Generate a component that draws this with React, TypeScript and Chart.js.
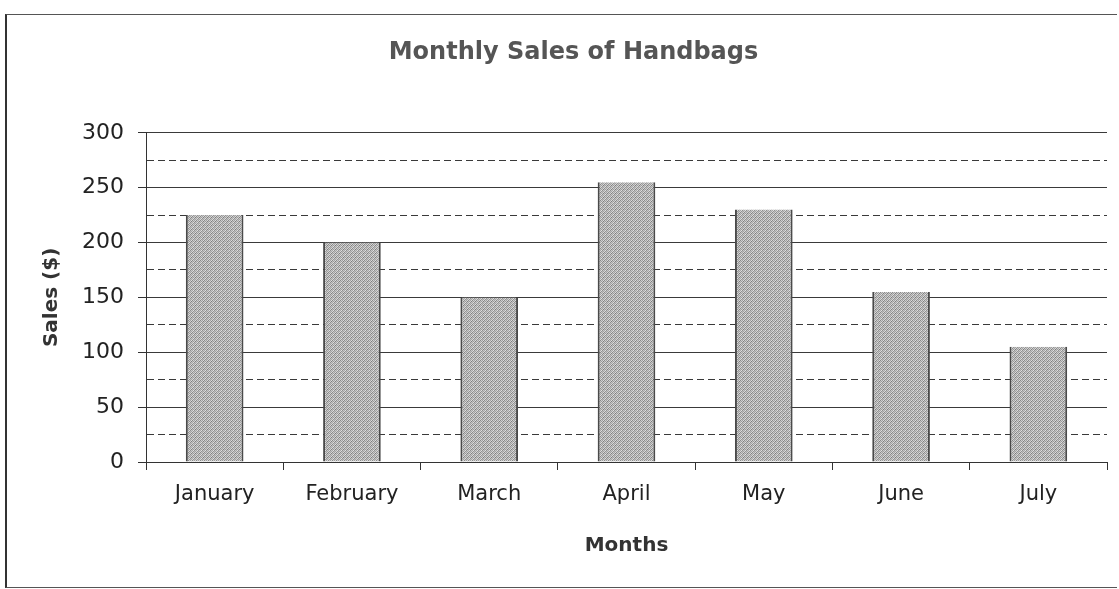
import React, { useEffect, useRef } from "react";
import { Chart, registerables } from "chart.js";

Chart.register(...registerables);

const chartTitle = "Monthly Sales of Handbags";
const xTitle = "Months";
const yTitle = "Sales ($)";
const months = ["January", "February", "March", "April", "May", "June", "July"];
const sales = [225, 200, 150, 255, 230, 155, 105];
const yMin = 0;
const yMax = 300;
const yStep = 25;
const yLabelEvery = 50;

function makePattern(ctx: CanvasRenderingContext2D): CanvasPattern | string {
  const c = document.createElement("canvas");
  c.width = 4;
  c.height = 4;
  const p = c.getContext("2d");
  if (!p) return "#aaaaaa";
  const shades = [
    "#8a8a8a", "#cfcfcf", "#a0a0a0", "#dadada",
    "#c4c4c4", "#9a9a9a", "#d2d2d2", "#7e7e7e",
    "#a6a6a6", "#e0e0e0", "#8e8e8e", "#c8c8c8",
    "#d6d6d6", "#949494", "#bcbcbc", "#a2a2a2",
  ];
  for (let i = 0; i < 16; i++) {
    p.fillStyle = shades[i];
    p.fillRect(i % 4, Math.floor(i / 4), 1, 1);
  }
  return ctx.createPattern(c, "repeat") || "#aaaaaa";
}

export default function App() {
  const ref = useRef<HTMLCanvasElement | null>(null);
  useEffect(() => {
    const canvas = ref.current;
    if (!canvas) return;
    const ctx = canvas.getContext("2d");
    if (!ctx) return;
    const pattern = makePattern(ctx);
    const isMajor = (c: any) => c && c.tick && Number(c.tick.value) % yLabelEvery === 0;
    const chart = new Chart(canvas, {
      type: "bar",
      data: {
        labels: months,
        datasets: [
          {
            data: sales,
            backgroundColor: pattern as any,
            borderColor: "#4a4a4a",
            borderWidth: { left: 2, right: 2, top: 0, bottom: 0 } as any,
            borderSkipped: false,
            barPercentage: 0.42,
            categoryPercentage: 1,
          },
        ],
      },
      options: {
        responsive: false,
        animation: false,
        layout: { padding: { top: 14, left: 40, right: 12, bottom: 31 } },
        plugins: {
          legend: { display: false },
          tooltip: { enabled: false },
          title: {
            display: true,
            text: chartTitle,
            color: "#555555",
            font: { family: "DejaVu Sans", size: 24, weight: "bold" },
            padding: { top: 24, bottom: 66 },
          },
        },
        scales: {
          x: {
            afterFit: (s: any) => {
              s.height = 96;
            },
            grid: {
              display: true,
              drawOnChartArea: false,
              drawTicks: true,
              tickLength: 8,
              color: "#333333",
              offset: true,
            },
            border: { display: true, color: "#333333", width: 1 },
            ticks: {
              color: "#222222",
              font: { family: "DejaVu Sans", size: 21 },
              padding: 12,
              maxRotation: 0,
            },
            title: {
              display: true,
              text: xTitle,
              color: "#333333",
              font: { family: "DejaVu Sans", size: 20, weight: "bold" },
              padding: { top: 0, bottom: 0 },
            },
          },
          y: {
            min: yMin,
            max: yMax,
            afterFit: (s: any) => {
              s.width = 106;
            },
            grid: {
              color: "#3a3a3a",
              lineWidth: 1,
              drawTicks: true,
              tickLength: 8,
              tickColor: (c: any) => (isMajor(c) ? "#333333" : "rgba(0,0,0,0)"),
            },
            border: {
              display: true,
              color: "#333333",
              width: 1,
              dash: (c: any) => (c && c.tick && !isMajor(c) ? [7, 4] : []),
            } as any,
            ticks: {
              stepSize: yStep,
              autoSkip: false,
              color: "#222222",
              font: { family: "DejaVu Sans", size: 22 },
              padding: 14,
              callback: (v: any) => (Number(v) % yLabelEvery === 0 ? String(v) : ""),
            },
            title: {
              display: true,
              text: yTitle,
              color: "#333333",
              font: { family: "DejaVu Sans", size: 20, weight: "bold" },
              padding: { top: 0, bottom: 0 },
            },
          },
        },
      },
    } as any);
    return () => chart.destroy();
  }, []);

  return (
    <div
      style={{
        position: "fixed",
        left: 0,
        top: 0,
        width: 1119,
        height: 589,
        background: "#ffffff",
        overflow: "hidden",
      }}
    >
      <div
        style={{
          position: "absolute",
          left: 5,
          top: 14,
          width: 1110,
          height: 572,
          borderLeft: "2px solid #333",
          borderTop: "1px solid #555",
          borderBottom: "1px solid #555",
        }}
      />
      <canvas
        ref={ref}
        width={1119}
        height={589}
        style={{ position: "absolute", left: 0, top: 0, width: 1119, height: 589 }}
      />
    </div>
  );
}
